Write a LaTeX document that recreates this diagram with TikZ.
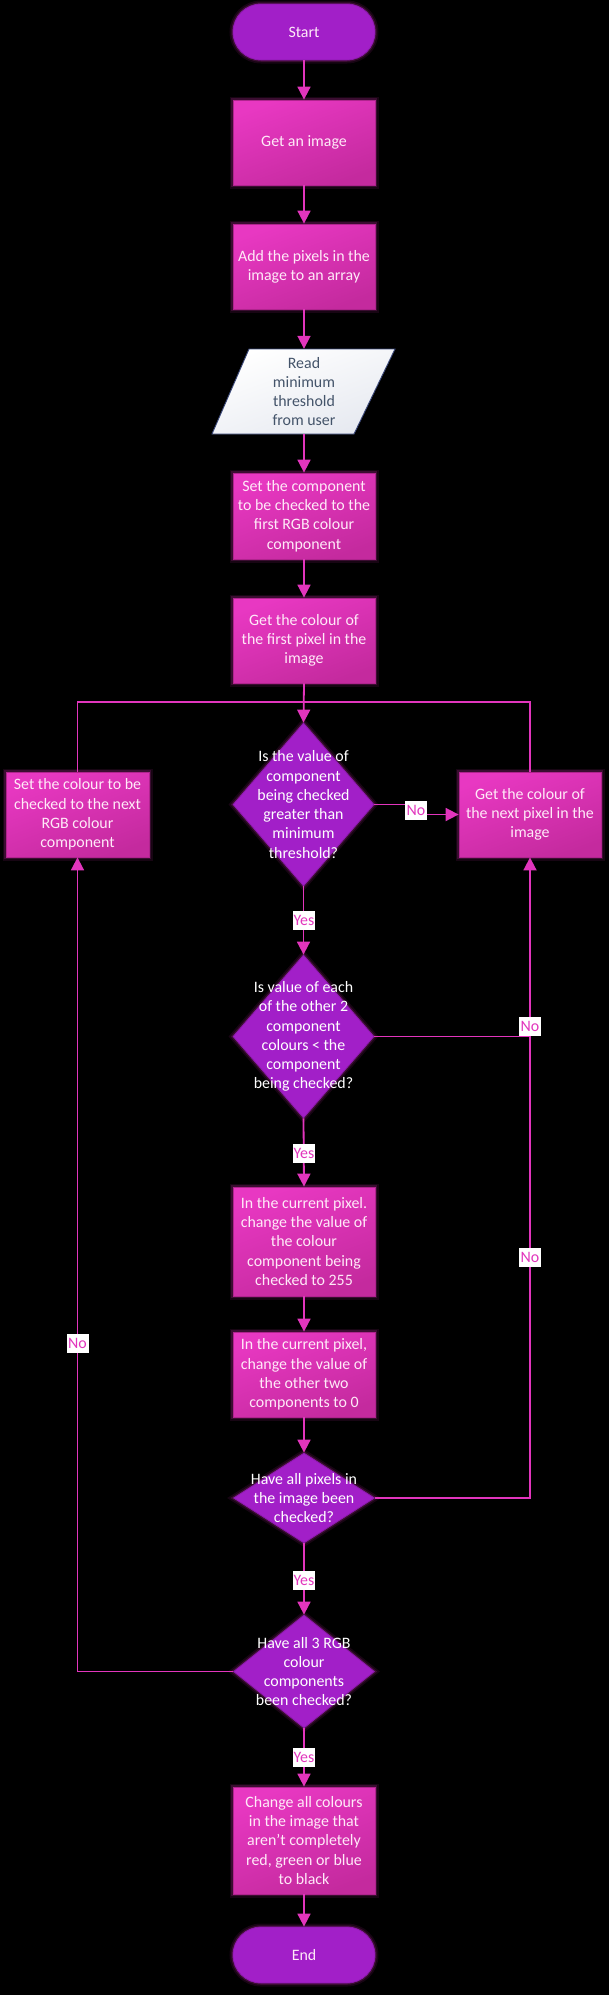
\documentclass[tikz,border=0pt]{standalone}
\usepackage{fontspec}
\setmainfont{Carlito}
\usetikzlibrary{arrows.meta,shapes.geometric}
\definecolor{boxtop}{HTML}{E838C2}
\definecolor{boxbot}{HTML}{C42A9E}
\definecolor{boxedge}{HTML}{B0248E}
\definecolor{purp}{HTML}{A21FC8}
\definecolor{purpedge}{HTML}{8E1AB0}
\definecolor{linec}{HTML}{E235BD}
\definecolor{boxtext}{HTML}{FFEAF8}
\definecolor{intext}{HTML}{44546A}
\definecolor{inedge}{HTML}{3A4778}
\definecolor{inbot}{HTML}{E6E9F0}
\tikzset{
  glow/.style={preaction={draw=linec,line width=7pt,opacity=0.10},
               preaction={draw=linec,line width=3.5pt,opacity=0.18}},
  proc/.style={rectangle,minimum width=142pt,minimum height=85pt,inner sep=0pt,
    glow,top color=boxtop,bottom color=boxbot,shading angle=20,draw=boxedge,line width=0.8pt,
    text=boxtext,align=center},
  term/.style={rectangle,rounded corners=28pt,minimum width=142pt,minimum height=56pt,inner sep=0pt,
    glow,fill=purp,draw=purpedge,line width=0.8pt,text=boxtext,align=center},
  dec/.style={diamond,inner sep=0pt,minimum width=141pt,glow,fill=purp,draw=purpedge,line width=0.8pt},
  dectext/.style={text=white,align=center},
  conn/.style={draw=linec,line width=1.8pt},
  arr/.style={conn,-{Triangle[width=13pt,length=13pt]}},
  lbl/.style={fill=white,text=linec,inner sep=1pt,minimum height=19pt,minimum width=22pt}
}
\begin{document}
\begin{tikzpicture}[x=1pt,y=-1pt,font=\fontsize{15.9}{19.3}\selectfont]
\fill[black] (0,0) rectangle (609,1995);
\useasboundingbox (0,0) rectangle (609,1995);

% input parallelogram shape
\path[draw=inedge,line width=0.9pt,top color=white,bottom color=inbot,shading angle=20]
  (212,434) -- (249,349) -- (395,349) -- (354,434) -- cycle;

\node[term] (start) at (304,32) {Start};
\node[proc] (getimg) at (304,142.5) {Get an image};
\node[proc] (addpix) at (304,266.5) {Add the pixels in the\\image to an array};
\node[rectangle,minimum width=142pt,minimum height=85pt,inner sep=0pt,text=intext,align=center] (read) at (304,391.5) {Read\\minimum\\threshold\\from user};
\node[proc,minimum height=86pt] (setcomp) at (304,516) {Set the component\\to be checked to the\\first RGB colour\\component};
\node[proc] (getfirst) at (304,640.5) {Get the colour of\\the first pixel in the\\image};

\node[dec,minimum height=163pt,label={[dectext]center:{Is the value of\\component\\being checked\\greater than\\minimum\\threshold?}}] (d1) at (303.5,804.5) {};
\node[proc,minimum width=143pt] (leftbox) at (77.5,814.5) {Set the colour to be\\checked to the next\\RGB colour\\component};
\node[proc] (rightbox) at (530,814.5) {Get the colour of\\the next pixel in the\\image};

\node[dec,minimum height=163pt,label={[dectext]center:{Is value of each\\of the other 2\\component\\colours < the\\component\\being checked?}}] (d2) at (303.5,1036.5) {};

\node[proc,minimum height=109pt] (box3) at (304,1241.5) {In the current pixel.\\change the value of\\the colour\\component being\\checked to 255};
\node[proc] (box4) at (304,1374.5) {In the current pixel,\\change the value of\\the other two\\components to 0};

\node[dec,minimum height=90pt,label={[dectext]center:{Have all pixels in\\the image been\\checked?}}] (d3) at (304,1498) {};
\node[dec,minimum height=113pt,label={[dectext]center:{Have all 3 RGB\\colour\\components\\been checked?}}] (d4) at (304,1671.5) {};

\node[proc,minimum height=107pt] (final) at (304,1840.5) {Change all colours\\in the image that\\aren’t completely\\red, green or blue\\to black};
\node[term] (end) at (304,1955) {End};

% connectors
\draw[arr] (start) -- (getimg);
\draw[arr] (getimg) -- (addpix);
\draw[arr] (addpix) -- (read);
\draw[arr] (read) -- (setcomp);
\draw[arr] (setcomp) -- (getfirst);
\coordinate (join) at (304,702);
\draw[conn] (leftbox.north) |- (join);
\draw[conn] (rightbox.north) |- (join);
\draw[arr] (getfirst.south) -- (d1.north);

\coordinate (n1) at (416,810);
\draw[arr] (d1.east) -- (d1.east -| n1) -- (n1 |- rightbox.west) -- (rightbox.west);
\draw[arr] (d1.south) -- (d2.north);
\draw[conn] (d2.east) -- (d2.east -| rightbox.south);
\draw[arr] (d2.south) -- (box3.north);
\draw[arr] (box3.south) -- (box4.north);
\draw[arr] (box4.south) -- (d3.north);
\draw[arr] (d3.east) -| (rightbox.south);
\draw[arr] (d3.south) -- (d4.north);
\draw[arr] (d4.west) -| (leftbox.south);
\draw[arr] (d4.south) -- (final.north);
\draw[arr] (final.south) -- (end.north);

% labels
\node[lbl] (no1) at (n1) {No};
\node[lbl] (yes1) at (304,920) {Yes};
\node[lbl] (no2) at (530,1026) {No};
\node[lbl] (yes2) at (304,1153) {Yes};
\node[lbl] (no3) at (530,1257) {No};
\node[lbl] (no4) at (77.5,1343) {No};
\node[lbl] (yes3) at (304,1580) {Yes};
\node[lbl] (yes4) at (304,1757) {Yes};
\end{tikzpicture}
\end{document}
